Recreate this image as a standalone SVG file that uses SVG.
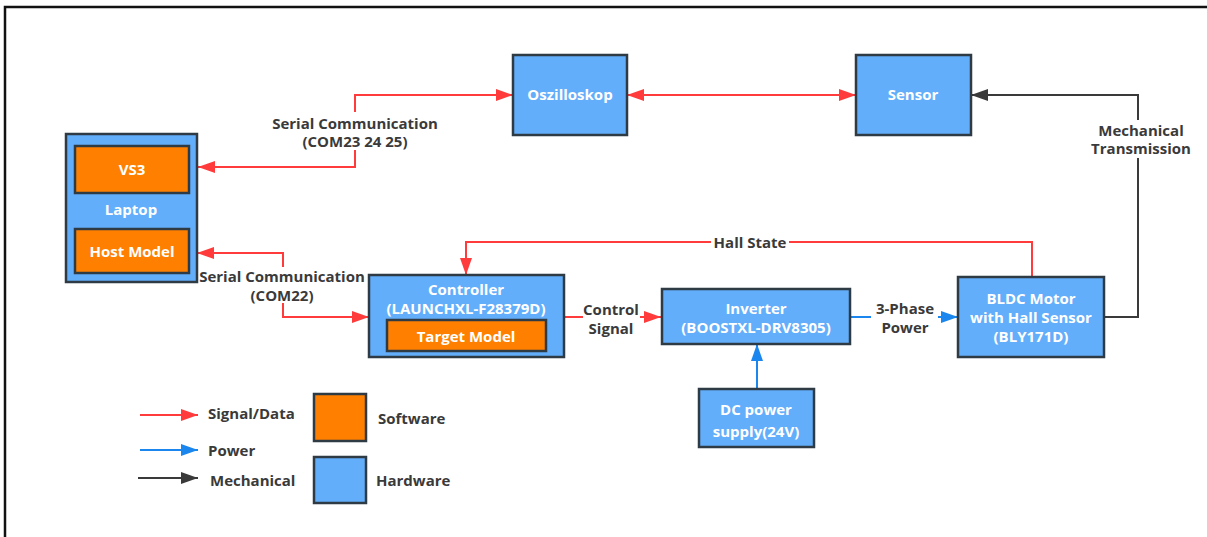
<svg xmlns="http://www.w3.org/2000/svg" width="1207" height="537" viewBox="0 0 1207 537">
  <style>
    .hw { fill: #63aefa; stroke: #2e3a44; stroke-width: 2.5; }
    .sw { fill: #ff8000; stroke: #2e3a44; stroke-width: 2.5; }
    .nt { font-family: "Open Sans", "Noto Sans", sans-serif; font-weight: 700; font-size: 15px; fill: #ffffff; text-anchor: middle; }
    .lb { font-family: "Open Sans", "Noto Sans", sans-serif; font-weight: 700; font-size: 15px; fill: #3a3a3a; text-anchor: middle; }
    .lg { font-family: "Open Sans", "Noto Sans", sans-serif; font-weight: 700; font-size: 15px; fill: #3a3a3a; }
    .sig { fill: none; stroke: #ff3b3b; stroke-width: 2; }
    .pwr { fill: none; stroke: #1a86ee; stroke-width: 2; }
    .mech { fill: none; stroke: #3a3a3a; stroke-width: 2; }
    .bg { fill: #ffffff; }
  </style>
  <defs>
    <marker id="arrRed" markerUnits="userSpaceOnUse" markerWidth="18" markerHeight="14" refX="17" refY="7" orient="auto-start-reverse">
      <path d="M0,1 L17,7 L0,13 z" fill="#ff3b3b"/>
    </marker>
    <marker id="arrBlue" markerUnits="userSpaceOnUse" markerWidth="18" markerHeight="14" refX="17" refY="7" orient="auto-start-reverse">
      <path d="M0,1 L17,7 L0,13 z" fill="#1a86ee"/>
    </marker>
    <marker id="arrBlack" markerUnits="userSpaceOnUse" markerWidth="18" markerHeight="14" refX="17" refY="7" orient="auto-start-reverse">
      <path d="M0,1 L17,7 L0,13 z" fill="#3a3a3a"/>
    </marker>
  </defs>

  <rect x="0" y="0" width="1207" height="537" fill="#ffffff"/>
  <!-- frame -->
  <path d="M5,537 V7 H1207" fill="none" stroke="#111" stroke-width="2.5"/>

  <!-- connectors -->
  <g id="connectors">
    <path class="sig" d="M198,167 H355 V95 H513" marker-start="url(#arrRed)" marker-end="url(#arrRed)"/>
    <path class="sig" d="M627,95 H856" marker-start="url(#arrRed)" marker-end="url(#arrRed)"/>
    <path class="mech" d="M1104,317 H1138 V95 H971" marker-end="url(#arrBlack)"/>
    <path class="sig" d="M197,253 H283 V317 H369" marker-start="url(#arrRed)" marker-end="url(#arrRed)"/>
    <path class="sig" d="M564,317 H661" marker-end="url(#arrRed)"/>
    <path class="sig" d="M1032,277 V242 H466 V275" marker-end="url(#arrRed)"/>
    <path class="pwr" d="M850,317 H958" marker-end="url(#arrBlue)"/>
    <path class="pwr" d="M757,389 V344" marker-end="url(#arrBlue)"/>

    <!-- connector labels -->
    <rect class="bg" x="270" y="112" width="170" height="38"/>
    <text class="lb" x="355" y="129">Serial Communication</text>
    <text class="lb" x="355" y="147">(COM23 24 25)</text>

    <rect class="bg" x="199" y="267" width="167" height="36"/>
    <text class="lb" x="282" y="282">Serial Communication</text>
    <text class="lb" x="282" y="301">(COM22)</text>

    <rect class="bg" x="1090" y="120" width="104" height="38"/>
    <text class="lb" x="1141" y="136">Mechanical</text>
    <text class="lb" x="1141" y="154">Transmission</text>

    <rect class="bg" x="711" y="234" width="78" height="16"/>
    <text class="lb" x="750" y="248">Hall State</text>

    <rect class="bg" x="583" y="299" width="57" height="38"/>
    <text class="lb" x="611" y="315">Control</text>
    <text class="lb" x="611" y="334">Signal</text>

    <rect class="bg" x="871" y="298" width="67" height="38"/>
    <text class="lb" x="905" y="314">3-Phase</text>
    <text class="lb" x="905" y="333">Power</text>
  </g>

  <!-- nodes -->
  <g id="laptop">
    <rect class="hw" x="66" y="134" width="131" height="148"/>
    <text class="nt" x="131" y="215">Laptop</text>
  </g>
  <g id="vs3">
    <rect class="sw" x="75" y="146" width="114" height="47"/>
    <text class="nt" x="132" y="175">VS3</text>
  </g>
  <g id="host-model">
    <rect class="sw" x="75" y="229" width="114" height="44"/>
    <text class="nt" x="132" y="257">Host Model</text>
  </g>
  <g id="oszilloskop">
    <rect class="hw" x="513" y="55" width="114" height="80"/>
    <text class="nt" x="570" y="100">Oszilloskop</text>
  </g>
  <g id="sensor">
    <rect class="hw" x="856" y="55" width="115" height="80"/>
    <text class="nt" x="913" y="100">Sensor</text>
  </g>
  <g id="controller">
    <rect class="hw" x="369" y="275" width="195" height="82"/>
    <text class="nt" x="466" y="295">Controller</text>
    <text class="nt" x="466" y="314">(LAUNCHXL-F28379D)</text>
  </g>
  <g id="target-model">
    <rect class="sw" x="387" y="320" width="159" height="31"/>
    <text class="nt" x="466" y="342">Target Model</text>
  </g>
  <g id="inverter">
    <rect class="hw" x="662" y="289" width="188" height="55"/>
    <text class="nt" x="756" y="314">Inverter</text>
    <text class="nt" x="756" y="333">(BOOSTXL-DRV8305)</text>
  </g>
  <g id="bldc-motor">
    <rect class="hw" x="958" y="277" width="146" height="80"/>
    <text class="nt" x="1031" y="304">BLDC Motor</text>
    <text class="nt" x="1031" y="323">with Hall Sensor</text>
    <text class="nt" x="1031" y="342">(BLY171D)</text>
  </g>
  <g id="dc-power">
    <rect class="hw" x="699" y="389" width="115" height="58"/>
    <text class="nt" x="756" y="415">DC power</text>
    <text class="nt" x="756" y="437">supply(24V)</text>
  </g>

  <!-- legend -->
  <g id="legend">
    <path class="sig" d="M140,415 H198" marker-end="url(#arrRed)"/>
    <text class="lg" x="208" y="419">Signal/Data</text>
    <path class="pwr" d="M140,450 H198" marker-end="url(#arrBlue)"/>
    <text class="lg" x="208" y="456">Power</text>
    <path class="mech" d="M138,478 H198" marker-end="url(#arrBlack)"/>
    <text class="lg" x="210" y="486">Mechanical</text>
    <rect class="sw" x="314" y="394" width="52" height="47"/>
    <text class="lg" x="378" y="424">Software</text>
    <rect class="hw" x="314" y="457" width="52" height="46"/>
    <text class="lg" x="376" y="486">Hardware</text>
  </g>
</svg>
